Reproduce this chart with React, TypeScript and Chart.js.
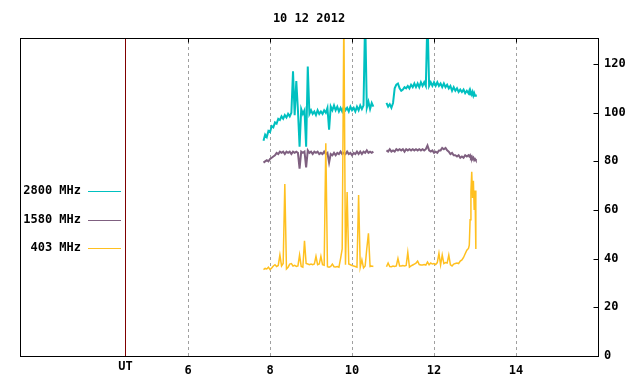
import React, { useEffect, useRef } from "react";
import { Chart, registerables } from "chart.js";

Chart.register(...registerables);

const TITLE = "10 12 2012";

// Time in hours UT (null gap between the two recording blocks)
const TIMES = [
  7.84, 7.88, 7.92, 7.96, 8.0, 8.04, 8.08, 8.12, 8.16, 8.2,
  8.24, 8.28, 8.32, 8.36, 8.4, 8.44, 8.48, 8.52, 8.56, 8.6,
  8.64, 8.68, 8.72, 8.76, 8.8, 8.84, 8.88, 8.92, 8.96, 9.0,
  9.04, 9.08, 9.12, 9.16, 9.2, 9.24, 9.28, 9.32, 9.36, 9.4,
  9.44, 9.48, 9.52, 9.56, 9.6, 9.64, 9.68, 9.72, 9.76, 9.8,
  9.84, 9.88, 9.92, 9.96, 10.0, 10.04, 10.08, 10.12, 10.16, 10.2,
  10.24, 10.28, 10.32, 10.36, 10.4, 10.44, 10.48, 10.52,
  10.68,
  10.84, 10.88, 10.92, 10.96, 11.0, 11.04, 11.08, 11.12, 11.16, 11.2,
  11.24, 11.28, 11.32, 11.36, 11.4, 11.44, 11.48, 11.52, 11.56, 11.6,
  11.64, 11.68, 11.72, 11.76, 11.8, 11.84, 11.88, 11.92, 11.96, 12.0,
  12.04, 12.08, 12.12, 12.16, 12.2, 12.24, 12.28, 12.32, 12.36, 12.4,
  12.44, 12.48, 12.52, 12.56, 12.6, 12.64, 12.68, 12.72, 12.76, 12.8,
  12.84, 12.86, 12.88, 12.9, 12.92, 12.94, 12.96, 12.98, 13.0, 13.02,
];

const S2800 = [
  88.5, 91, 90, 92.5, 92, 94.5, 94, 96, 95.5, 97.5,
  97, 98.5, 97.5, 99, 98, 99.5, 98.5, 100, 117, 99,
  113, 101, 86, 101.5, 99.5, 101, 86, 119, 99.5, 101,
  99.5, 100.5, 99, 101, 99.5, 100.5, 99.5, 101, 100, 102,
  93, 102.5, 101, 103, 101, 102.5, 100.5, 102, 100.5, 102.5,
  101, 102, 100.5, 102.5, 101, 102, 100.5, 102.5, 101, 103,
  101.5, 103, 140, 102, 104.5, 101.5, 104, 102.5,
  null,
  104, 102.5, 103.5, 102, 104, 110, 111.5, 112, 110, 109,
  109.5, 110.5, 110, 111, 110, 111.5, 110.5, 112, 110.5, 112,
  110.5, 112.5, 111, 112.5, 111, 140, 111, 112.5, 111, 112.5,
  111, 112.5, 111, 112, 110.5, 112, 110.5, 111.5, 110, 111,
  109, 110.5, 109, 110, 108.5, 109.5, 108.5, 109.5, 108, 109,
  108, 109, 107.5, 108.5, 107.5, 108.5, 107, 108, 107, 107.5,
];

const S1580 = [
  79.5, 80, 80.5, 80, 81, 81.5, 82, 82.5, 83.5, 83,
  84, 83.5, 84, 83, 84, 83.5, 84, 83, 84, 83.5,
  84, 83.5, 77, 84, 83.5, 84, 77.5, 84.5, 83.5, 84,
  83, 84, 83.5, 84, 83, 83.5, 83, 84, 83, 83.5,
  79.5, 83, 82.5, 83.5, 82.5, 83.5, 83, 84, 83, 83.5,
  83, 84, 83, 83.5, 82.5, 83.5, 83, 84, 83, 84,
  83, 84, 83.5, 84.5, 83.5, 84, 83.5, 84,
  null,
  84.5, 84, 85, 84, 84.5, 84, 85, 84.5, 85, 84.5,
  85, 84, 85, 84.5, 85, 84.5, 85, 84.5, 85, 84.5,
  85, 84.5, 85, 84.5, 85, 86.5, 84.5, 84, 84.5, 83.5,
  84, 83.5, 84.5, 84.5, 85.5, 85, 85.5, 84.5, 84, 83,
  83.5, 82.5, 82.5, 82, 82.5, 81.5, 82, 81.5, 82.5, 82,
  82.5, 82, 82.5, 81.5, 82, 81, 81.5, 80.5, 81, 80.5,
];

const S403 = [
  35.5, 36, 35.8, 36.5, 35.5, 36.2, 37, 37.5, 36.8, 37.2,
  41.5, 37, 38, 70.7, 35.8, 36.5, 37.8, 38, 37, 37.3,
  36.8, 37, 41.5, 36.8, 36.5, 47.3, 38, 37.8, 37.5, 37.8,
  37.5, 37.8, 41, 37.5, 37.8, 41, 37.5, 37.3, 87.4, 36.7,
  36.5, 36.8, 37.8, 36.7, 36.6, 36.8, 36.5, 40, 44, 140,
  37.5, 67.4, 37.8, 37.5, 37.2, 37, 36.8, 36.5, 66.2, 36.5,
  39.5, 36.2, 37, 44.2, 50.4, 36.8, 37, 36.8,
  null,
  36.7, 38.2, 36.8, 36.7, 37, 36.8, 37, 40.1, 37, 37,
  37.2, 37, 37.2, 42.6, 36.5, 37, 37.4, 37.8, 38.2, 39,
  37.6, 37.4, 37.4, 37.6, 37.4, 38.6, 37.5, 38.2, 37.8, 38,
  37.6, 38.4, 42.2, 37.5, 41.5, 38, 38.4, 38.2, 41.5, 37.5,
  37, 37.8, 38, 38.2, 38, 39, 39.5, 40.5, 42, 43.5,
  44.2, 45.6, 56, 67.5, 75.7, 65, 72, 60, 68, 44,
];

const SERIES_LABELS = ["2800 MHz", "1580 MHz", "403 MHz"];
const SERIES_COLORS = ["#00c0c0", "#7f6080", "#ffc020"];
const SERIES_WIDTHS = [2, 2, 1.5];
const SERIES_VALUES = [S2800, S1580, S403];

const X_TICKS = [6, 8, 10, 12, 14];
const Y_TICKS = [0, 20, 40, 60, 80, 100, 120];
const X_MIN = 1.9;
const X_MAX = 16;
const Y_MIN = 0;
const Y_MAX = 130.7;
const UT_MARK = 4.46;
const UT_LABEL = "UT";

const FAMILY = '"DejaVu Sans Mono", "Liberation Mono", monospace';
const FONT = `bold 12px ${FAMILY}`;

const framePlugin = {
  id: "gnuframe",
  beforeDatasetsDraw(chart: any) {
    const { ctx, chartArea: a, scales } = chart;
    ctx.save();
    ctx.strokeStyle = "#a0a0a0";
    ctx.lineWidth = 1;
    ctx.setLineDash([3, 3]);
    X_TICKS.forEach((t) => {
      const x = Math.round(scales.x.getPixelForValue(t)) + 0.5;
      ctx.beginPath();
      ctx.moveTo(x, a.bottom);
      ctx.lineTo(x, a.top);
      ctx.stroke();
    });
    ctx.restore();
  },
  afterDatasetsDraw(chart: any) {
    const { ctx, chartArea: a, scales } = chart;
    ctx.save();
    ctx.setLineDash([]);
    ctx.lineWidth = 1;
    // UT marker line
    ctx.strokeStyle = "#800000";
    const ux = Math.round(scales.x.getPixelForValue(UT_MARK)) + 0.5;
    ctx.beginPath();
    ctx.moveTo(ux, a.top);
    ctx.lineTo(ux, a.bottom);
    ctx.stroke();
    // frame
    ctx.strokeStyle = "#000";
    const l = Math.round(a.left) + 0.5;
    const t = Math.round(a.top) + 0.5;
    const r = Math.round(a.right) + 0.5;
    const b = Math.round(a.bottom) + 0.5;
    ctx.strokeRect(l, t, r - l, b - t);
    // top mirror ticks
    X_TICKS.forEach((v) => {
      const x = Math.round(scales.x.getPixelForValue(v)) + 0.5;
      ctx.beginPath();
      ctx.moveTo(x, t);
      ctx.lineTo(x, t + 4);
      ctx.stroke();
    });
    // right ticks
    Y_TICKS.forEach((v) => {
      const y = Math.round(scales.y.getPixelForValue(v)) + 0.5;
      ctx.beginPath();
      ctx.moveTo(r - 5, y);
      ctx.lineTo(r, y);
      ctx.stroke();
    });
    // legend
    ctx.font = FONT;
    ctx.textBaseline = "middle";
    ctx.textAlign = "right";
    const rows = [191, 219.5, 248];
    SERIES_LABELS.forEach((lab, i) => {
      const y = rows[i];
      ctx.fillStyle = "#000";
      ctx.fillText(lab, 81, y);
      ctx.strokeStyle = SERIES_COLORS[i];
      ctx.beginPath();
      ctx.moveTo(88, Math.round(y) + 0.5);
      ctx.lineTo(121, Math.round(y) + 0.5);
      ctx.stroke();
    });
    // title
    ctx.textAlign = "center";
    ctx.fillStyle = "#000";
    ctx.fillText(TITLE, (a.left + a.right) / 2, 19);
    // UT label
    ctx.fillText(UT_LABEL, ux, 367);
    ctx.restore();
  },
};

export default function App() {
  const ref = useRef<HTMLCanvasElement | null>(null);

  useEffect(() => {
    if (!ref.current) return;
    const datasets = SERIES_VALUES.map((vals, i) => ({
      label: SERIES_LABELS[i],
      data: TIMES.map((t, k) => ({ x: t, y: vals[k] })),
      borderColor: SERIES_COLORS[i],
      backgroundColor: SERIES_COLORS[i],
      borderWidth: SERIES_WIDTHS[i],
      pointRadius: 0,
      tension: 0,
      spanGaps: false,
      fill: false,
      borderJoinStyle: "miter" as const,
      order: i === 2 ? 0 : i === 0 ? 1 : 2,
    }));
    const chart = new Chart(ref.current, {
      type: "line",
      data: { datasets },
      plugins: [framePlugin],
      options: {
        animation: false,
        responsive: false,
        devicePixelRatio: 1,
        parsing: false as any,
        normalized: true,
        layout: { padding: { left: 20, top: 38, right: 0, bottom: 0 } },
        plugins: {
          legend: { display: false },
          title: { display: false },
          tooltip: { enabled: false },
        },
        scales: {
          x: {
            type: "linear",
            min: X_MIN,
            max: X_MAX,
            grid: { display: false, drawTicks: false, tickLength: 0 },
            border: { display: false },
            afterBuildTicks: (s: any) => {
              s.ticks = X_TICKS.map((v) => ({ value: v }));
            },
            afterFit: (s: any) => {
              s.height = 28;
            },
            ticks: {
              color: "#000",
              padding: 8,
              maxRotation: 0,
              autoSkip: false,
              font: { family: FAMILY, size: 12, weight: "bold" },
              callback: (v: any) => String(v),
            },
          },
          y: {
            type: "linear",
            position: "right",
            min: Y_MIN,
            max: Y_MAX,
            grid: { display: false, drawTicks: false, tickLength: 0 },
            border: { display: false },
            afterBuildTicks: (s: any) => {
              s.ticks = Y_TICKS.map((v) => ({ value: v }));
            },
            afterFit: (s: any) => {
              s.width = 42;
            },
            ticks: {
              color: "#000",
              padding: 6,
              autoSkip: false,
              font: { family: FAMILY, size: 12, weight: "bold" },
              callback: (v: any) => String(v),
            },
          },
        },
      },
    });
    return () => chart.destroy();
  }, []);

  return (
    <div style={{ position: "fixed", left: 0, top: 0, width: 640, height: 384, background: "#fff" }}>
      <canvas ref={ref} width={640} height={384} style={{ width: 640, height: 384, display: "block" }} />
    </div>
  );
}
